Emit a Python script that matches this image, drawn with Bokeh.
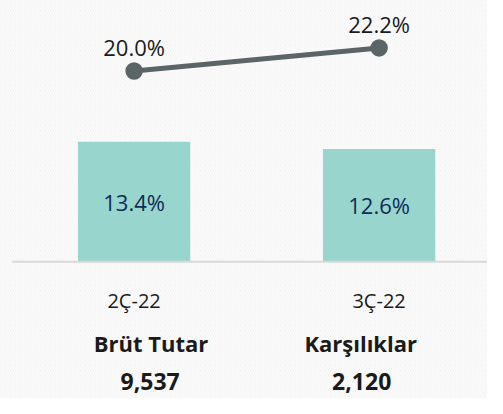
from bokeh.plotting import figure
from bokeh.models import Range1d, ColumnDataSource, BoxAnnotation
from bokeh.core.properties import value
from bokeh.embed import file_html
from bokeh.resources import INLINE

# ---- data ----
periods = ["2Ç-22", "3Ç-22"]
bar_values = [13.4, 12.6]
line_values = [20.0, 22.2]
bar_labels = ["13.4%", "12.6%"]
line_labels = ["20.0%", "22.2%"]
item_names = ["Brüt Tutar", "Karşılıklar"]
item_amounts = ["9,537", "2,120"]

# ---- layout constants (pixels) ----
W, H = 487, 398
cat_px = 245.0          # distance between category centres
left_px = 133.6         # first category centre from left edge
x_start = -left_px / cat_px
x_end = x_start + W / cat_px

base_px = 261.2         # bar baseline from top
bar_ppu = 8.95          # px per bar unit
y_end = base_px / bar_ppu
y_start = -(H - base_px) / bar_ppu

line_zero_px = 280.5    # zero of the line axis from top
line_ppu = 10.5
ly_end = line_zero_px / line_ppu
ly_start = -(H - line_zero_px) / line_ppu

axis_left_px = 11.6

name_dx = [17, -18.4]
amount_dx = [16, -17.4]

FONT = value("Open Sans")
TXT = "#1a1a1a"

x_idx = list(range(len(periods)))
src = ColumnDataSource(dict(
    x=x_idx, bar=bar_values, half=[v / 2 for v in bar_values], zero=[0] * len(x_idx),
    line=line_values, bar_lab=bar_labels, line_lab=line_labels,
    period=periods, name=item_names, amount=item_amounts,
    name_dx=name_dx, amount_dx=amount_dx,
))

p = figure(width=W, height=H, output_backend="svg", toolbar_location=None,
           x_range=Range1d(x_start, x_end), y_range=Range1d(y_start, y_end),
           x_axis_type=None, y_axis_type=None, min_border=0)
p.extra_y_ranges = {"line": Range1d(ly_start, ly_end)}
p.grid.visible = False
p.outline_line_color = None
p.background_fill_color = "#f3f3f3"
p.border_fill_color = "#f3f3f3"

p.add_layout(BoxAnnotation(fill_color="#f3f3f3", fill_alpha=1, line_color=None,
                           hatch_pattern="/", hatch_color="#fbfbfb", hatch_scale=5,
                           hatch_weight=1.5, level="underlay"))

p.vbar(x="x", top="bar", bottom=0, width=112.3 / cat_px, source=src,
       fill_color="#98d5cc", line_color=None)

p.segment(x0=x_start + axis_left_px / cat_px, x1=x_end, y0=0, y1=0,
          line_color="#d9d9d9", line_width=2)

p.line(x="x", y="line", source=src, y_range_name="line", line_color="#5b6467", line_width=5)
p.scatter(x="x", y="line", source=src, y_range_name="line", size=17.5,
          fill_color="#5b6467", line_color=None)

p.text(x="x", y="line", text="line_lab", source=src, y_range_name="line",
       y_offset=-24, text_align="center", text_baseline="alphabetic",
       text_font=FONT, text_font_size="22px", text_color=TXT)

p.text(x="x", y="half", text="bar_lab", source=src,
       text_align="center", text_baseline="middle",
       text_font=FONT, text_font_size="22px", text_color="#0f2b5b")

p.text(x="x", y="zero", text="period", source=src, y_offset=38.5,
       text_align="center", text_baseline="alphabetic",
       text_font=FONT, text_font_size="20px", text_color=TXT)

p.text(x="x", y="zero", text="name", source=src, x_offset="name_dx", y_offset=81,
       text_align="center", text_baseline="alphabetic",
       text_font=FONT, text_font_size="22px", text_font_style="bold", text_color=TXT)

p.text(x="x", y="zero", text="amount", source=src, x_offset="amount_dx", y_offset=120,
       text_align="center", text_baseline="alphabetic",
       text_font=FONT, text_font_size="23px", text_font_style="bold", text_color=TXT)

open("out.html", "w").write(file_html(p, INLINE))
